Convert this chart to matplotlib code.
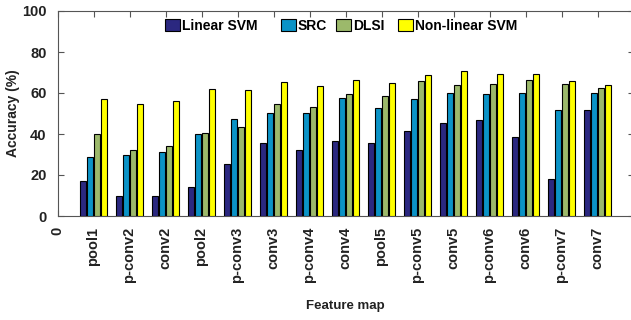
import matplotlib
matplotlib.use("Agg")
import matplotlib.pyplot as plt
import numpy as np

plt.rcParams['font.family'] = ['Liberation Sans', 'DejaVu Sans']
plt.rcParams['font.weight'] = 'bold'

feature_maps = ["pool1", "p-conv2", "conv2", "pool2", "p-conv3", "conv3", "p-conv4",
                "conv4", "pool5", "p-conv5", "conv5", "p-conv6", "conv6", "p-conv7", "conv7"]
series_names = ["Linear SVM", "SRC", "DLSI", "Non-linear SVM"]
linear_svm = [17.0, 9.6, 10.0, 14.0, 25.2, 35.8, 32.0, 36.7, 35.6, 41.3, 45.5, 46.7, 38.7, 18.0, 51.5]
src = [29.0, 29.6, 31.0, 39.8, 47.2, 50.1, 50.1, 57.4, 52.5, 56.9, 60.2, 59.5, 60.2, 51.5, 60.2]
dlsi = [40.0, 32.0, 34.0, 40.5, 43.3, 54.5, 53.0, 59.4, 58.4, 65.7, 63.7, 64.2, 66.2, 64.2, 62.3]
nonlinear_svm = [57.0, 54.5, 56.0, 61.8, 61.3, 65.5, 63.6, 66.2, 65.0, 68.8, 70.6, 69.3, 69.3, 66.0, 63.7]
colors = ["#2B2880", "#0B93C6", "#9CB96B", "#FFFF00"]

W, H = 631, 320
fig = plt.figure(figsize=(W / 100, H / 100), dpi=100)
ax = fig.add_axes([57.5 / W, 104 / H, 576 / W, 205 / H])

x = np.arange(1, len(feature_maps) + 1)
offsets = [-0.285, -0.095, 0.095, 0.285]
width = 0.155
handles = []
for vals, off, col, name in zip([linear_svm, src, dlsi, nonlinear_svm], offsets, colors, series_names):
    bars = ax.bar(x + off, vals, width=width, color=col, edgecolor="black", linewidth=0.8,
                  label=name, zorder=3)
    handles.append(bars)

ax.set_xlim(0, 16)
ax.set_ylim(0, 100)
ax.set_yticks([0, 20, 40, 60, 80, 100])
ax.set_xticks(np.arange(0, 17))
ax.set_xticklabels(["0"] + feature_maps + [""], rotation=90, fontsize=10.5, fontweight='bold', color="#222222")
for lab in ax.get_yticklabels():
    lab.set_fontsize(10.5)
    lab.set_fontweight('bold')
    lab.set_color("#222222")
ax.tick_params(axis='both', direction='in', length=4, width=0.8, color="#555555",
               top=True, right=True)
ax.tick_params(axis='y', pad=8)
ax.tick_params(axis='x', pad=8)
for sp in ax.spines.values():
    sp.set_color("#555555")
    sp.set_linewidth(0.8)

ax.set_ylabel("Accuracy (%)", fontsize=10, fontweight='bold', color="#222222", labelpad=1)
ax.set_xlabel("Feature map", fontsize=9.5, fontweight='bold', color="#222222", labelpad=12)

# one legend entry per series, laid out in a single row along the top of the axes
entry_left_px = [165, 281, 336, 398]
for h, name, left in zip(handles, series_names, entry_left_px):
    leg = fig.legend([h], [name], loc='upper left', bbox_to_anchor=(left / W, 1 - 19 / H),
                     frameon=False, fontsize=10, handlelength=1.05, handleheight=1.0,
                     handletextpad=0.15, borderpad=0, borderaxespad=0)
    for t in leg.get_texts():
        t.set_fontweight('bold')

fig.savefig("out.png", dpi=100)
